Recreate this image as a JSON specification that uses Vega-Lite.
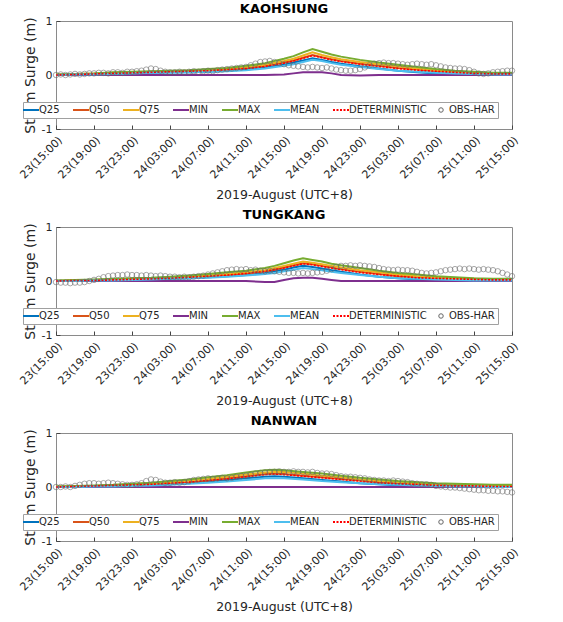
{
"$schema": "https://vega.github.io/schema/vega-lite/v6.json",
"padding": {"left": 17, "top": 2, "right": 5, "bottom": 2},
"spacing": 6,
"config": {
  "font": "DejaVu Sans",
  "view": {"stroke": "#8a8a8a", "strokeWidth": 1},
  "axis": {"domain": false, "grid": false, "tickSize": -4, "tickColor": "#444", "labelFontSize": 11, "labelColor": "#262626", "titleFontSize": 12.5, "titleFontWeight": "normal", "titleColor": "#262626", "labelFont": "DejaVu Sans", "titleFont": "DejaVu Sans", "labelOverlap": false},
  "axisX": {"labelPadding": 9, "titlePadding": 8},
  "axisY": {"labelPadding": 8, "titleFontSize": 14, "titleX": -19, "titleY": 54, "titleBaseline": "bottom", "titleAlign": "center"},
  "title": {"fontSize": 13, "fontWeight": "bold", "font": "DejaVu Sans", "color": "#000", "offset": -1, "anchor": "middle"},
  "legend": {"orient": "none", "legendX": -33, "legendY": 81, "direction": "horizontal", "columns": 8, "title": null, "fillColor": "white", "strokeColor": "#a0a0a0", "padding": 3, "columnPadding": 9, "labelFontSize": 10, "labelFont": "DejaVu Sans", "labelColor": "#262626", "symbolSize": 256, "symbolStrokeWidth": 2, "symbolType": "stroke", "labelOffset": 3, "zindex": 1}
},
"resolve": {"scale": {"color": "independent"}, "legend": {"color": "independent"}},
"datasets": {
"modK": [
{"h":0,"Q25":0.00,"Q50":0.00,"Q75":0.01,"MIN":0.00,"MAX":0.01,"MEAN":0.00,"DETERMINISTIC":0.00},
{"h":2,"Q25":0.01,"Q50":0.01,"Q75":0.02,"MIN":0.00,"MAX":0.02,"MEAN":0.01,"DETERMINISTIC":0.01},
{"h":4,"Q25":0.01,"Q50":0.02,"Q75":0.03,"MIN":0.00,"MAX":0.03,"MEAN":0.01,"DETERMINISTIC":0.02},
{"h":6,"Q25":0.02,"Q50":0.03,"Q75":0.04,"MIN":0.00,"MAX":0.05,"MEAN":0.02,"DETERMINISTIC":0.03},
{"h":8,"Q25":0.03,"Q50":0.04,"Q75":0.05,"MIN":0.00,"MAX":0.06,"MEAN":0.03,"DETERMINISTIC":0.04},
{"h":10,"Q25":0.04,"Q50":0.05,"Q75":0.06,"MIN":0.00,"MAX":0.07,"MEAN":0.04,"DETERMINISTIC":0.05},
{"h":12,"Q25":0.05,"Q50":0.06,"Q75":0.07,"MIN":0.00,"MAX":0.08,"MEAN":0.04,"DETERMINISTIC":0.06},
{"h":14,"Q25":0.05,"Q50":0.07,"Q75":0.08,"MIN":0.00,"MAX":0.09,"MEAN":0.05,"DETERMINISTIC":0.07},
{"h":16,"Q25":0.06,"Q50":0.08,"Q75":0.09,"MIN":0.00,"MAX":0.11,"MEAN":0.06,"DETERMINISTIC":0.08},
{"h":18,"Q25":0.08,"Q50":0.10,"Q75":0.12,"MIN":0.00,"MAX":0.13,"MEAN":0.07,"DETERMINISTIC":0.10},
{"h":20,"Q25":0.10,"Q50":0.13,"Q75":0.15,"MIN":0.00,"MAX":0.17,"MEAN":0.09,"DETERMINISTIC":0.12},
{"h":22,"Q25":0.14,"Q50":0.17,"Q75":0.19,"MIN":0.00,"MAX":0.22,"MEAN":0.12,"DETERMINISTIC":0.16},
{"h":24,"Q25":0.19,"Q50":0.23,"Q75":0.26,"MIN":0.01,"MAX":0.30,"MEAN":0.17,"DETERMINISTIC":0.22},
{"h":25,"Q25":0.23,"Q50":0.27,"Q75":0.30,"MIN":0.03,"MAX":0.35,"MEAN":0.20,"DETERMINISTIC":0.26},
{"h":26,"Q25":0.27,"Q50":0.32,"Q75":0.36,"MIN":0.05,"MAX":0.42,"MEAN":0.24,"DETERMINISTIC":0.31},
{"h":27,"Q25":0.31,"Q50":0.37,"Q75":0.42,"MIN":0.05,"MAX":0.48,"MEAN":0.28,"DETERMINISTIC":0.36},
{"h":28,"Q25":0.28,"Q50":0.33,"Q75":0.37,"MIN":0.05,"MAX":0.43,"MEAN":0.26,"DETERMINISTIC":0.32},
{"h":29,"Q25":0.24,"Q50":0.29,"Q75":0.33,"MIN":0.03,"MAX":0.38,"MEAN":0.22,"DETERMINISTIC":0.28},
{"h":30,"Q25":0.21,"Q50":0.26,"Q75":0.29,"MIN":0.00,"MAX":0.34,"MEAN":0.19,"DETERMINISTIC":0.25},
{"h":32,"Q25":0.16,"Q50":0.21,"Q75":0.24,"MIN":-0.01,"MAX":0.28,"MEAN":0.15,"DETERMINISTIC":0.20},
{"h":34,"Q25":0.12,"Q50":0.17,"Q75":0.20,"MIN":0.00,"MAX":0.23,"MEAN":0.11,"DETERMINISTIC":0.16},
{"h":36,"Q25":0.08,"Q50":0.13,"Q75":0.16,"MIN":0.00,"MAX":0.19,"MEAN":0.08,"DETERMINISTIC":0.12},
{"h":38,"Q25":0.05,"Q50":0.10,"Q75":0.12,"MIN":0.00,"MAX":0.15,"MEAN":0.06,"DETERMINISTIC":0.09},
{"h":40,"Q25":0.03,"Q50":0.07,"Q75":0.09,"MIN":0.00,"MAX":0.11,"MEAN":0.04,"DETERMINISTIC":0.07},
{"h":42,"Q25":0.02,"Q50":0.05,"Q75":0.06,"MIN":0.00,"MAX":0.08,"MEAN":0.03,"DETERMINISTIC":0.05},
{"h":44,"Q25":0.01,"Q50":0.03,"Q75":0.04,"MIN":0.00,"MAX":0.06,"MEAN":0.02,"DETERMINISTIC":0.03},
{"h":46,"Q25":0.01,"Q50":0.02,"Q75":0.03,"MIN":0.00,"MAX":0.04,"MEAN":0.01,"DETERMINISTIC":0.02},
{"h":48,"Q25":0.01,"Q50":0.02,"Q75":0.03,"MIN":0.00,"MAX":0.04,"MEAN":0.01,"DETERMINISTIC":0.02}
],
"modT": [
{"h":0,"Q25":0.00,"Q50":0.00,"Q75":0.00,"MIN":0.00,"MAX":0.01,"MEAN":0.00,"DETERMINISTIC":0.00},
{"h":2,"Q25":0.00,"Q50":0.01,"Q75":0.01,"MIN":0.00,"MAX":0.02,"MEAN":0.00,"DETERMINISTIC":0.01},
{"h":4,"Q25":0.01,"Q50":0.01,"Q75":0.02,"MIN":0.00,"MAX":0.03,"MEAN":0.01,"DETERMINISTIC":0.01},
{"h":6,"Q25":0.01,"Q50":0.02,"Q75":0.03,"MIN":0.00,"MAX":0.04,"MEAN":0.01,"DETERMINISTIC":0.02},
{"h":8,"Q25":0.02,"Q50":0.03,"Q75":0.04,"MIN":0.00,"MAX":0.05,"MEAN":0.02,"DETERMINISTIC":0.03},
{"h":10,"Q25":0.03,"Q50":0.04,"Q75":0.05,"MIN":0.00,"MAX":0.06,"MEAN":0.03,"DETERMINISTIC":0.04},
{"h":12,"Q25":0.04,"Q50":0.05,"Q75":0.06,"MIN":0.00,"MAX":0.08,"MEAN":0.04,"DETERMINISTIC":0.05},
{"h":14,"Q25":0.05,"Q50":0.07,"Q75":0.08,"MIN":0.00,"MAX":0.10,"MEAN":0.05,"DETERMINISTIC":0.07},
{"h":16,"Q25":0.07,"Q50":0.09,"Q75":0.10,"MIN":0.00,"MAX":0.13,"MEAN":0.06,"DETERMINISTIC":0.09},
{"h":18,"Q25":0.09,"Q50":0.11,"Q75":0.13,"MIN":0.00,"MAX":0.16,"MEAN":0.08,"DETERMINISTIC":0.11},
{"h":20,"Q25":0.11,"Q50":0.14,"Q75":0.16,"MIN":0.00,"MAX":0.19,"MEAN":0.10,"DETERMINISTIC":0.14},
{"h":22,"Q25":0.15,"Q50":0.18,"Q75":0.20,"MIN":-0.02,"MAX":0.24,"MEAN":0.13,"DETERMINISTIC":0.18},
{"h":23,"Q25":0.18,"Q50":0.21,"Q75":0.24,"MIN":-0.02,"MAX":0.28,"MEAN":0.15,"DETERMINISTIC":0.21},
{"h":24,"Q25":0.21,"Q50":0.25,"Q75":0.28,"MIN":0.02,"MAX":0.33,"MEAN":0.18,"DETERMINISTIC":0.24},
{"h":25,"Q25":0.25,"Q50":0.29,"Q75":0.32,"MIN":0.05,"MAX":0.38,"MEAN":0.21,"DETERMINISTIC":0.28},
{"h":26,"Q25":0.28,"Q50":0.33,"Q75":0.36,"MIN":0.06,"MAX":0.42,"MEAN":0.24,"DETERMINISTIC":0.32},
{"h":27,"Q25":0.26,"Q50":0.31,"Q75":0.34,"MIN":0.06,"MAX":0.39,"MEAN":0.22,"DETERMINISTIC":0.30},
{"h":28,"Q25":0.23,"Q50":0.28,"Q75":0.31,"MIN":0.04,"MAX":0.36,"MEAN":0.20,"DETERMINISTIC":0.27},
{"h":29,"Q25":0.20,"Q50":0.25,"Q75":0.28,"MIN":0.02,"MAX":0.32,"MEAN":0.17,"DETERMINISTIC":0.24},
{"h":30,"Q25":0.17,"Q50":0.22,"Q75":0.25,"MIN":0.00,"MAX":0.29,"MEAN":0.15,"DETERMINISTIC":0.21},
{"h":32,"Q25":0.12,"Q50":0.17,"Q75":0.20,"MIN":0.00,"MAX":0.24,"MEAN":0.11,"DETERMINISTIC":0.16},
{"h":34,"Q25":0.08,"Q50":0.13,"Q75":0.16,"MIN":0.00,"MAX":0.19,"MEAN":0.08,"DETERMINISTIC":0.12},
{"h":36,"Q25":0.05,"Q50":0.09,"Q75":0.12,"MIN":0.00,"MAX":0.15,"MEAN":0.05,"DETERMINISTIC":0.09},
{"h":38,"Q25":0.03,"Q50":0.07,"Q75":0.09,"MIN":0.00,"MAX":0.12,"MEAN":0.04,"DETERMINISTIC":0.06},
{"h":40,"Q25":0.02,"Q50":0.05,"Q75":0.07,"MIN":0.00,"MAX":0.09,"MEAN":0.03,"DETERMINISTIC":0.05},
{"h":42,"Q25":0.01,"Q50":0.04,"Q75":0.05,"MIN":0.00,"MAX":0.07,"MEAN":0.02,"DETERMINISTIC":0.04},
{"h":44,"Q25":0.01,"Q50":0.03,"Q75":0.04,"MIN":0.00,"MAX":0.05,"MEAN":0.01,"DETERMINISTIC":0.03},
{"h":46,"Q25":0.01,"Q50":0.02,"Q75":0.03,"MIN":0.00,"MAX":0.04,"MEAN":0.01,"DETERMINISTIC":0.02},
{"h":48,"Q25":0.01,"Q50":0.02,"Q75":0.03,"MIN":0.00,"MAX":0.04,"MEAN":0.01,"DETERMINISTIC":0.02}
],
"modN": [
{"h":0,"Q25":0.00,"Q50":0.00,"Q75":0.01,"MIN":0.00,"MAX":0.01,"MEAN":0.00,"DETERMINISTIC":0.00},
{"h":2,"Q25":0.00,"Q50":0.01,"Q75":0.01,"MIN":0.00,"MAX":0.02,"MEAN":0.00,"DETERMINISTIC":0.01},
{"h":4,"Q25":0.01,"Q50":0.02,"Q75":0.02,"MIN":0.00,"MAX":0.03,"MEAN":0.01,"DETERMINISTIC":0.02},
{"h":6,"Q25":0.02,"Q50":0.03,"Q75":0.03,"MIN":0.00,"MAX":0.04,"MEAN":0.01,"DETERMINISTIC":0.03},
{"h":8,"Q25":0.03,"Q50":0.04,"Q75":0.05,"MIN":0.00,"MAX":0.06,"MEAN":0.02,"DETERMINISTIC":0.04},
{"h":10,"Q25":0.04,"Q50":0.05,"Q75":0.07,"MIN":0.00,"MAX":0.08,"MEAN":0.03,"DETERMINISTIC":0.05},
{"h":12,"Q25":0.05,"Q50":0.07,"Q75":0.09,"MIN":0.00,"MAX":0.11,"MEAN":0.04,"DETERMINISTIC":0.07},
{"h":14,"Q25":0.07,"Q50":0.09,"Q75":0.12,"MIN":0.00,"MAX":0.14,"MEAN":0.06,"DETERMINISTIC":0.09},
{"h":16,"Q25":0.10,"Q50":0.12,"Q75":0.15,"MIN":0.00,"MAX":0.18,"MEAN":0.08,"DETERMINISTIC":0.12},
{"h":18,"Q25":0.13,"Q50":0.16,"Q75":0.19,"MIN":0.00,"MAX":0.22,"MEAN":0.10,"DETERMINISTIC":0.15},
{"h":20,"Q25":0.16,"Q50":0.20,"Q75":0.23,"MIN":0.00,"MAX":0.27,"MEAN":0.13,"DETERMINISTIC":0.19},
{"h":22,"Q25":0.19,"Q50":0.24,"Q75":0.27,"MIN":0.00,"MAX":0.31,"MEAN":0.16,"DETERMINISTIC":0.23},
{"h":23,"Q25":0.20,"Q50":0.25,"Q75":0.28,"MIN":0.00,"MAX":0.32,"MEAN":0.16,"DETERMINISTIC":0.24},
{"h":24,"Q25":0.19,"Q50":0.24,"Q75":0.28,"MIN":0.00,"MAX":0.31,"MEAN":0.16,"DETERMINISTIC":0.23},
{"h":26,"Q25":0.16,"Q50":0.21,"Q75":0.25,"MIN":0.00,"MAX":0.28,"MEAN":0.14,"DETERMINISTIC":0.20},
{"h":28,"Q25":0.13,"Q50":0.18,"Q75":0.21,"MIN":0.00,"MAX":0.25,"MEAN":0.11,"DETERMINISTIC":0.17},
{"h":30,"Q25":0.10,"Q50":0.15,"Q75":0.18,"MIN":0.00,"MAX":0.21,"MEAN":0.09,"DETERMINISTIC":0.14},
{"h":32,"Q25":0.07,"Q50":0.12,"Q75":0.14,"MIN":0.00,"MAX":0.17,"MEAN":0.07,"DETERMINISTIC":0.11},
{"h":34,"Q25":0.05,"Q50":0.09,"Q75":0.11,"MIN":0.00,"MAX":0.14,"MEAN":0.05,"DETERMINISTIC":0.08},
{"h":36,"Q25":0.03,"Q50":0.07,"Q75":0.09,"MIN":0.00,"MAX":0.11,"MEAN":0.04,"DETERMINISTIC":0.06},
{"h":38,"Q25":0.02,"Q50":0.05,"Q75":0.07,"MIN":0.00,"MAX":0.09,"MEAN":0.03,"DETERMINISTIC":0.05},
{"h":40,"Q25":0.01,"Q50":0.04,"Q75":0.05,"MIN":0.00,"MAX":0.07,"MEAN":0.02,"DETERMINISTIC":0.03},
{"h":42,"Q25":0.01,"Q50":0.03,"Q75":0.04,"MIN":0.00,"MAX":0.06,"MEAN":0.01,"DETERMINISTIC":0.02},
{"h":44,"Q25":0.00,"Q50":0.02,"Q75":0.03,"MIN":0.00,"MAX":0.05,"MEAN":0.01,"DETERMINISTIC":0.02},
{"h":46,"Q25":0.00,"Q50":0.01,"Q75":0.02,"MIN":0.00,"MAX":0.04,"MEAN":0.00,"DETERMINISTIC":0.01},
{"h":48,"Q25":0.00,"Q50":0.01,"Q75":0.02,"MIN":0.00,"MAX":0.04,"MEAN":0.00,"DETERMINISTIC":0.01}
],
"obsK": [
{"h":0,"OBS-HAR":0.00},{"h":0.5,"OBS-HAR":0.01},{"h":1,"OBS-HAR":0.00},{"h":1.5,"OBS-HAR":0.01},{"h":2,"OBS-HAR":0.02},{"h":2.5,"OBS-HAR":0.01},{"h":3,"OBS-HAR":0.02},{"h":3.5,"OBS-HAR":0.03},{"h":4,"OBS-HAR":0.03},{"h":4.5,"OBS-HAR":0.04},
{"h":5,"OBS-HAR":0.04},{"h":5.5,"OBS-HAR":0.03},{"h":6,"OBS-HAR":0.05},{"h":6.5,"OBS-HAR":0.05},{"h":7,"OBS-HAR":0.04},{"h":7.5,"OBS-HAR":0.06},{"h":8,"OBS-HAR":0.06},{"h":8.5,"OBS-HAR":0.07},{"h":9,"OBS-HAR":0.08},{"h":9.5,"OBS-HAR":0.10},
{"h":10,"OBS-HAR":0.12},{"h":10.5,"OBS-HAR":0.11},{"h":11,"OBS-HAR":0.08},{"h":11.5,"OBS-HAR":0.06},{"h":12,"OBS-HAR":0.05},{"h":12.5,"OBS-HAR":0.05},{"h":13,"OBS-HAR":0.06},{"h":13.5,"OBS-HAR":0.05},{"h":14,"OBS-HAR":0.06},{"h":14.5,"OBS-HAR":0.07},
{"h":15,"OBS-HAR":0.06},{"h":15.5,"OBS-HAR":0.07},{"h":16,"OBS-HAR":0.08},{"h":16.5,"OBS-HAR":0.07},{"h":17,"OBS-HAR":0.09},{"h":17.5,"OBS-HAR":0.10},{"h":18,"OBS-HAR":0.11},{"h":18.5,"OBS-HAR":0.12},{"h":19,"OBS-HAR":0.13},{"h":19.5,"OBS-HAR":0.14},
{"h":20,"OBS-HAR":0.15},{"h":20.5,"OBS-HAR":0.18},{"h":21,"OBS-HAR":0.21},{"h":21.5,"OBS-HAR":0.24},{"h":22,"OBS-HAR":0.25},{"h":22.5,"OBS-HAR":0.26},{"h":23,"OBS-HAR":0.24},{"h":23.5,"OBS-HAR":0.22},{"h":24,"OBS-HAR":0.20},{"h":24.5,"OBS-HAR":0.18},
{"h":25,"OBS-HAR":0.17},{"h":25.5,"OBS-HAR":0.16},{"h":26,"OBS-HAR":0.15},{"h":26.5,"OBS-HAR":0.14},{"h":27,"OBS-HAR":0.15},{"h":27.5,"OBS-HAR":0.14},{"h":28,"OBS-HAR":0.13},{"h":28.5,"OBS-HAR":0.14},{"h":29,"OBS-HAR":0.12},{"h":29.5,"OBS-HAR":0.10},
{"h":30,"OBS-HAR":0.09},{"h":30.5,"OBS-HAR":0.08},{"h":31,"OBS-HAR":0.08},{"h":31.5,"OBS-HAR":0.09},{"h":32,"OBS-HAR":0.11},{"h":32.5,"OBS-HAR":0.14},{"h":33,"OBS-HAR":0.18},{"h":33.5,"OBS-HAR":0.21},{"h":34,"OBS-HAR":0.22},{"h":34.5,"OBS-HAR":0.23},
{"h":35,"OBS-HAR":0.22},{"h":35.5,"OBS-HAR":0.22},{"h":36,"OBS-HAR":0.21},{"h":36.5,"OBS-HAR":0.20},{"h":37,"OBS-HAR":0.19},{"h":37.5,"OBS-HAR":0.20},{"h":38,"OBS-HAR":0.21},{"h":38.5,"OBS-HAR":0.20},{"h":39,"OBS-HAR":0.19},{"h":39.5,"OBS-HAR":0.20},
{"h":40,"OBS-HAR":0.18},{"h":40.5,"OBS-HAR":0.16},{"h":41,"OBS-HAR":0.14},{"h":41.5,"OBS-HAR":0.13},{"h":42,"OBS-HAR":0.12},{"h":42.5,"OBS-HAR":0.12},{"h":43,"OBS-HAR":0.11},{"h":43.5,"OBS-HAR":0.09},{"h":44,"OBS-HAR":0.06},{"h":44.5,"OBS-HAR":0.03},
{"h":45,"OBS-HAR":0.02},{"h":45.5,"OBS-HAR":0.03},{"h":46,"OBS-HAR":0.05},{"h":46.5,"OBS-HAR":0.06},{"h":47,"OBS-HAR":0.07},{"h":47.5,"OBS-HAR":0.08},{"h":48,"OBS-HAR":0.08}
],
"obsT": [
{"h":0,"OBS-HAR":-0.02},{"h":0.5,"OBS-HAR":-0.03},{"h":1,"OBS-HAR":-0.03},{"h":1.5,"OBS-HAR":-0.04},{"h":2,"OBS-HAR":-0.03},{"h":2.5,"OBS-HAR":-0.03},{"h":3,"OBS-HAR":-0.02},{"h":3.5,"OBS-HAR":0.00},{"h":4,"OBS-HAR":0.02},{"h":4.5,"OBS-HAR":0.04},
{"h":5,"OBS-HAR":0.07},{"h":5.5,"OBS-HAR":0.09},{"h":6,"OBS-HAR":0.10},{"h":6.5,"OBS-HAR":0.11},{"h":7,"OBS-HAR":0.11},{"h":7.5,"OBS-HAR":0.12},{"h":8,"OBS-HAR":0.11},{"h":8.5,"OBS-HAR":0.11},{"h":9,"OBS-HAR":0.10},{"h":9.5,"OBS-HAR":0.11},
{"h":10,"OBS-HAR":0.10},{"h":10.5,"OBS-HAR":0.09},{"h":11,"OBS-HAR":0.10},{"h":11.5,"OBS-HAR":0.09},{"h":12,"OBS-HAR":0.08},{"h":12.5,"OBS-HAR":0.08},{"h":13,"OBS-HAR":0.07},{"h":13.5,"OBS-HAR":0.08},{"h":14,"OBS-HAR":0.07},{"h":14.5,"OBS-HAR":0.08},
{"h":15,"OBS-HAR":0.09},{"h":15.5,"OBS-HAR":0.10},{"h":16,"OBS-HAR":0.12},{"h":16.5,"OBS-HAR":0.14},{"h":17,"OBS-HAR":0.16},{"h":17.5,"OBS-HAR":0.18},{"h":18,"OBS-HAR":0.20},{"h":18.5,"OBS-HAR":0.21},{"h":19,"OBS-HAR":0.22},{"h":19.5,"OBS-HAR":0.21},
{"h":20,"OBS-HAR":0.22},{"h":20.5,"OBS-HAR":0.20},{"h":21,"OBS-HAR":0.21},{"h":21.5,"OBS-HAR":0.19},{"h":22,"OBS-HAR":0.18},{"h":22.5,"OBS-HAR":0.19},{"h":23,"OBS-HAR":0.18},{"h":23.5,"OBS-HAR":0.17},{"h":24,"OBS-HAR":0.16},{"h":24.5,"OBS-HAR":0.15},
{"h":25,"OBS-HAR":0.15},{"h":25.5,"OBS-HAR":0.14},{"h":26,"OBS-HAR":0.15},{"h":26.5,"OBS-HAR":0.14},{"h":27,"OBS-HAR":0.15},{"h":27.5,"OBS-HAR":0.16},{"h":28,"OBS-HAR":0.17},{"h":28.5,"OBS-HAR":0.19},{"h":29,"OBS-HAR":0.22},{"h":29.5,"OBS-HAR":0.26},
{"h":30,"OBS-HAR":0.28},{"h":30.5,"OBS-HAR":0.28},{"h":31,"OBS-HAR":0.29},{"h":31.5,"OBS-HAR":0.28},{"h":32,"OBS-HAR":0.29},{"h":32.5,"OBS-HAR":0.28},{"h":33,"OBS-HAR":0.27},{"h":33.5,"OBS-HAR":0.26},{"h":34,"OBS-HAR":0.24},{"h":34.5,"OBS-HAR":0.22},
{"h":35,"OBS-HAR":0.21},{"h":35.5,"OBS-HAR":0.20},{"h":36,"OBS-HAR":0.21},{"h":36.5,"OBS-HAR":0.20},{"h":37,"OBS-HAR":0.20},{"h":37.5,"OBS-HAR":0.19},{"h":38,"OBS-HAR":0.17},{"h":38.5,"OBS-HAR":0.15},{"h":39,"OBS-HAR":0.14},{"h":39.5,"OBS-HAR":0.15},
{"h":40,"OBS-HAR":0.16},{"h":40.5,"OBS-HAR":0.18},{"h":41,"OBS-HAR":0.20},{"h":41.5,"OBS-HAR":0.21},{"h":42,"OBS-HAR":0.22},{"h":42.5,"OBS-HAR":0.23},{"h":43,"OBS-HAR":0.22},{"h":43.5,"OBS-HAR":0.23},{"h":44,"OBS-HAR":0.22},{"h":44.5,"OBS-HAR":0.21},
{"h":45,"OBS-HAR":0.22},{"h":45.5,"OBS-HAR":0.21},{"h":46,"OBS-HAR":0.20},{"h":46.5,"OBS-HAR":0.18},{"h":47,"OBS-HAR":0.15},{"h":47.5,"OBS-HAR":0.12},{"h":48,"OBS-HAR":0.09}
],
"obsN": [
{"h":0,"OBS-HAR":0.00},{"h":0.5,"OBS-HAR":0.00},{"h":1,"OBS-HAR":0.01},{"h":1.5,"OBS-HAR":0.00},{"h":2,"OBS-HAR":0.02},{"h":2.5,"OBS-HAR":0.04},{"h":3,"OBS-HAR":0.06},{"h":3.5,"OBS-HAR":0.07},{"h":4,"OBS-HAR":0.07},{"h":4.5,"OBS-HAR":0.06},
{"h":5,"OBS-HAR":0.07},{"h":5.5,"OBS-HAR":0.08},{"h":6,"OBS-HAR":0.07},{"h":6.5,"OBS-HAR":0.06},{"h":7,"OBS-HAR":0.05},{"h":7.5,"OBS-HAR":0.04},{"h":8,"OBS-HAR":0.04},{"h":8.5,"OBS-HAR":0.05},{"h":9,"OBS-HAR":0.07},{"h":9.5,"OBS-HAR":0.11},
{"h":10,"OBS-HAR":0.14},{"h":10.5,"OBS-HAR":0.13},{"h":11,"OBS-HAR":0.10},{"h":11.5,"OBS-HAR":0.08},{"h":12,"OBS-HAR":0.08},{"h":12.5,"OBS-HAR":0.09},{"h":13,"OBS-HAR":0.08},{"h":13.5,"OBS-HAR":0.09},{"h":14,"OBS-HAR":0.11},{"h":14.5,"OBS-HAR":0.13},
{"h":15,"OBS-HAR":0.14},{"h":15.5,"OBS-HAR":0.15},{"h":16,"OBS-HAR":0.16},{"h":16.5,"OBS-HAR":0.15},{"h":17,"OBS-HAR":0.16},{"h":17.5,"OBS-HAR":0.17},{"h":18,"OBS-HAR":0.16},{"h":18.5,"OBS-HAR":0.17},{"h":19,"OBS-HAR":0.19},{"h":19.5,"OBS-HAR":0.20},
{"h":20,"OBS-HAR":0.21},{"h":20.5,"OBS-HAR":0.23},{"h":21,"OBS-HAR":0.25},{"h":21.5,"OBS-HAR":0.26},{"h":22,"OBS-HAR":0.27},{"h":22.5,"OBS-HAR":0.28},{"h":23,"OBS-HAR":0.28},{"h":23.5,"OBS-HAR":0.29},{"h":24,"OBS-HAR":0.28},{"h":24.5,"OBS-HAR":0.28},
{"h":25,"OBS-HAR":0.29},{"h":25.5,"OBS-HAR":0.28},{"h":26,"OBS-HAR":0.28},{"h":26.5,"OBS-HAR":0.27},{"h":27,"OBS-HAR":0.28},{"h":27.5,"OBS-HAR":0.26},{"h":28,"OBS-HAR":0.25},{"h":28.5,"OBS-HAR":0.25},{"h":29,"OBS-HAR":0.24},{"h":29.5,"OBS-HAR":0.22},
{"h":30,"OBS-HAR":0.20},{"h":30.5,"OBS-HAR":0.19},{"h":31,"OBS-HAR":0.19},{"h":31.5,"OBS-HAR":0.18},{"h":32,"OBS-HAR":0.17},{"h":32.5,"OBS-HAR":0.16},{"h":33,"OBS-HAR":0.14},{"h":33.5,"OBS-HAR":0.13},{"h":34,"OBS-HAR":0.12},{"h":34.5,"OBS-HAR":0.12},
{"h":35,"OBS-HAR":0.11},{"h":35.5,"OBS-HAR":0.12},{"h":36,"OBS-HAR":0.11},{"h":36.5,"OBS-HAR":0.10},{"h":37,"OBS-HAR":0.09},{"h":37.5,"OBS-HAR":0.07},{"h":38,"OBS-HAR":0.06},{"h":38.5,"OBS-HAR":0.05},{"h":39,"OBS-HAR":0.05},{"h":39.5,"OBS-HAR":0.04},
{"h":40,"OBS-HAR":0.02},{"h":40.5,"OBS-HAR":0.01},{"h":41,"OBS-HAR":0.00},{"h":41.5,"OBS-HAR":-0.01},{"h":42,"OBS-HAR":-0.01},{"h":42.5,"OBS-HAR":-0.02},{"h":43,"OBS-HAR":-0.03},{"h":43.5,"OBS-HAR":-0.04},{"h":44,"OBS-HAR":-0.05},{"h":44.5,"OBS-HAR":-0.06},
{"h":45,"OBS-HAR":-0.06},{"h":45.5,"OBS-HAR":-0.07},{"h":46,"OBS-HAR":-0.07},{"h":46.5,"OBS-HAR":-0.08},{"h":47,"OBS-HAR":-0.08},{"h":47.5,"OBS-HAR":-0.09},{"h":48,"OBS-HAR":-0.10}
]
},
"vconcat": [
{
"title": "KAOHSIUNG", "width": 456, "height": 108,
"encoding": {
  "x": {"field": "h", "type": "quantitative", "scale": {"domain": [0, 48], "nice": false, "zero": false}, "axis": {"values": [0,4,8,12,16,20,24,28,32,36,40,44,48], "labelAngle": -45, "labelExpr": "format(23 + floor((datum.value + 15) / 24), 'd') + '(' + format((datum.value + 15) % 24, '02d') + ':00)'", "title": "2019-August (UTC+8)"}},
  "y": {"field": "value", "type": "quantitative", "scale": {"domain": [-1, 1], "nice": false}, "axis": {"values": [-1, 0, 1], "labelExpr": "'' + datum.value", "title": "Storm Surge (m)"}}
},
"layer": [
{"data": {"name": "modK"}, "transform": [{"fold": ["Q25","Q50","Q75","MIN","MAX","MEAN"], "as": ["series","value"]}], "mark": {"type": "line", "strokeWidth": 2},
 "encoding": {"color": {"field": "series", "type": "nominal", "scale": {"domain": ["Q25","Q50","Q75","MIN","MAX","MEAN","DETERMINISTIC","OBS-HAR"], "range": ["#0072BD","#D95319","#EDB120","#7E2F8E","#77AC30","#4DBEEE","#FF0000","#666666"]},
  "legend": {"encode": {"symbols": {"update": {"shape": {"signal": "datum.value === 'OBS-HAR' ? 'circle' : 'stroke'"}, "size": {"signal": "datum.value === 'OBS-HAR' ? 20 : 256"}, "strokeDash": {"signal": "datum.value === 'DETERMINISTIC' ? [2, 1.5] : null"}, "strokeWidth": {"signal": "datum.value === 'OBS-HAR' ? 1 : 2"}, "fill": {"value": "transparent"}}}}}}}},
{"data": {"name": "modK"}, "transform": [{"fold": ["DETERMINISTIC"], "as": ["series","value"]}], "mark": {"type": "line", "strokeWidth": 1.6, "strokeDash": [2, 1.5]},
 "encoding": {"color": {"field": "series", "type": "nominal"}}},
{"data": {"name": "obsK"}, "transform": [{"fold": ["OBS-HAR"], "as": ["series","value"]}], "mark": {"type": "point", "filled": false, "size": 30, "strokeWidth": 0.8},
 "encoding": {"color": {"field": "series", "type": "nominal"}}}
]
},
{
"title": "TUNGKANG", "width": 456, "height": 108,
"encoding": {
  "x": {"field": "h", "type": "quantitative", "scale": {"domain": [0, 48], "nice": false, "zero": false}, "axis": {"values": [0,4,8,12,16,20,24,28,32,36,40,44,48], "labelAngle": -45, "labelExpr": "format(23 + floor((datum.value + 15) / 24), 'd') + '(' + format((datum.value + 15) % 24, '02d') + ':00)'", "title": "2019-August (UTC+8)"}},
  "y": {"field": "value", "type": "quantitative", "scale": {"domain": [-1, 1], "nice": false}, "axis": {"values": [-1, 0, 1], "labelExpr": "'' + datum.value", "title": "Storm Surge (m)"}}
},
"layer": [
{"data": {"name": "modT"}, "transform": [{"fold": ["Q25","Q50","Q75","MIN","MAX","MEAN"], "as": ["series","value"]}], "mark": {"type": "line", "strokeWidth": 2},
 "encoding": {"color": {"field": "series", "type": "nominal", "scale": {"domain": ["Q25","Q50","Q75","MIN","MAX","MEAN","DETERMINISTIC","OBS-HAR"], "range": ["#0072BD","#D95319","#EDB120","#7E2F8E","#77AC30","#4DBEEE","#FF0000","#666666"]},
  "legend": {"encode": {"symbols": {"update": {"shape": {"signal": "datum.value === 'OBS-HAR' ? 'circle' : 'stroke'"}, "size": {"signal": "datum.value === 'OBS-HAR' ? 20 : 256"}, "strokeDash": {"signal": "datum.value === 'DETERMINISTIC' ? [2, 1.5] : null"}, "strokeWidth": {"signal": "datum.value === 'OBS-HAR' ? 1 : 2"}, "fill": {"value": "transparent"}}}}}}}},
{"data": {"name": "modT"}, "transform": [{"fold": ["DETERMINISTIC"], "as": ["series","value"]}], "mark": {"type": "line", "strokeWidth": 1.6, "strokeDash": [2, 1.5]},
 "encoding": {"color": {"field": "series", "type": "nominal"}}},
{"data": {"name": "obsT"}, "transform": [{"fold": ["OBS-HAR"], "as": ["series","value"]}], "mark": {"type": "point", "filled": false, "size": 30, "strokeWidth": 0.8},
 "encoding": {"color": {"field": "series", "type": "nominal"}}}
]
},
{
"title": "NANWAN", "width": 456, "height": 108,
"encoding": {
  "x": {"field": "h", "type": "quantitative", "scale": {"domain": [0, 48], "nice": false, "zero": false}, "axis": {"values": [0,4,8,12,16,20,24,28,32,36,40,44,48], "labelAngle": -45, "labelExpr": "format(23 + floor((datum.value + 15) / 24), 'd') + '(' + format((datum.value + 15) % 24, '02d') + ':00)'", "title": "2019-August (UTC+8)"}},
  "y": {"field": "value", "type": "quantitative", "scale": {"domain": [-1, 1], "nice": false}, "axis": {"values": [-1, 0, 1], "labelExpr": "'' + datum.value", "title": "Storm Surge (m)"}}
},
"layer": [
{"data": {"name": "modN"}, "transform": [{"fold": ["Q25","Q50","Q75","MIN","MAX","MEAN"], "as": ["series","value"]}], "mark": {"type": "line", "strokeWidth": 2},
 "encoding": {"color": {"field": "series", "type": "nominal", "scale": {"domain": ["Q25","Q50","Q75","MIN","MAX","MEAN","DETERMINISTIC","OBS-HAR"], "range": ["#0072BD","#D95319","#EDB120","#7E2F8E","#77AC30","#4DBEEE","#FF0000","#666666"]},
  "legend": {"encode": {"symbols": {"update": {"shape": {"signal": "datum.value === 'OBS-HAR' ? 'circle' : 'stroke'"}, "size": {"signal": "datum.value === 'OBS-HAR' ? 20 : 256"}, "strokeDash": {"signal": "datum.value === 'DETERMINISTIC' ? [2, 1.5] : null"}, "strokeWidth": {"signal": "datum.value === 'OBS-HAR' ? 1 : 2"}, "fill": {"value": "transparent"}}}}}}}},
{"data": {"name": "modN"}, "transform": [{"fold": ["DETERMINISTIC"], "as": ["series","value"]}], "mark": {"type": "line", "strokeWidth": 1.6, "strokeDash": [2, 1.5]},
 "encoding": {"color": {"field": "series", "type": "nominal"}}},
{"data": {"name": "obsN"}, "transform": [{"fold": ["OBS-HAR"], "as": ["series","value"]}], "mark": {"type": "point", "filled": false, "size": 30, "strokeWidth": 0.8},
 "encoding": {"color": {"field": "series", "type": "nominal"}}}
]
}
]
}
